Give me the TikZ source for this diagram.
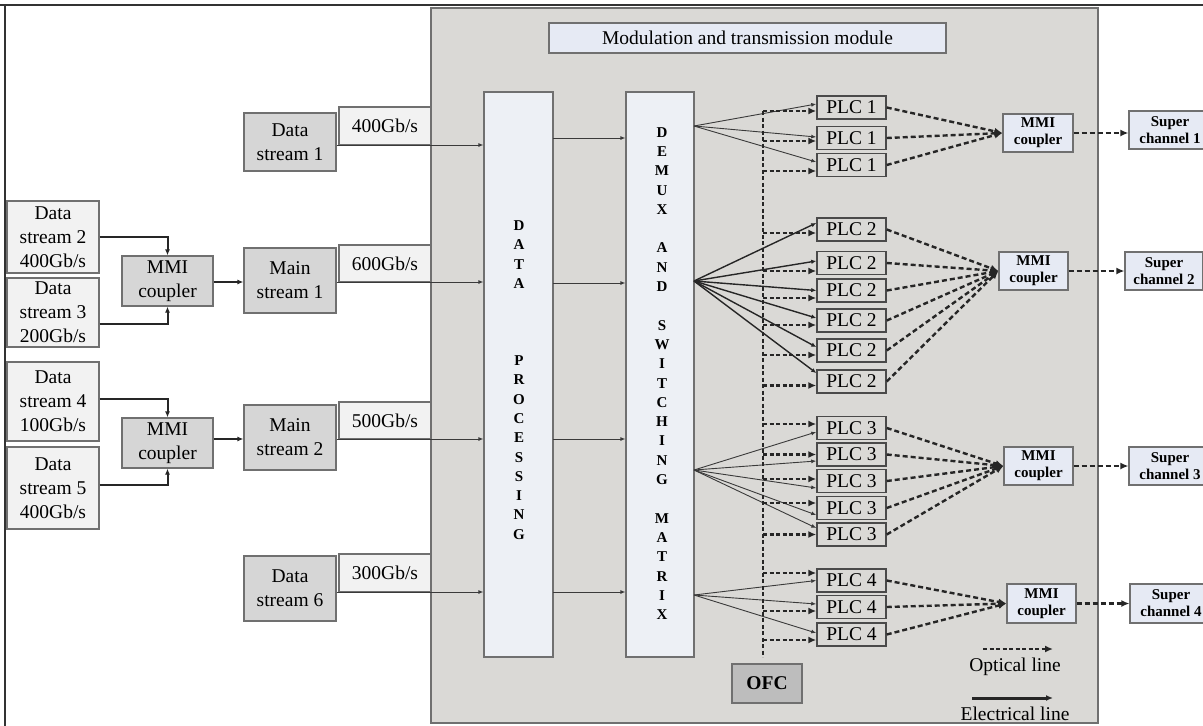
\documentclass[tikz,border=0pt]{standalone}
\usepackage{fontspec}
\setmainfont{Liberation Serif}
\usetikzlibrary{arrows.meta,calc}
\definecolor{lightfill}{HTML}{F2F2F2}
\definecolor{darkfill}{HTML}{D6D6D6}
\definecolor{modgray}{HTML}{DAD9D6}
\definecolor{bluefill}{HTML}{E6EAF4}
\definecolor{colfill}{HTML}{EDF0F5}
\definecolor{boxline}{HTML}{707070}
\definecolor{plcline}{HTML}{4A4A4A}
\definecolor{ofcfill}{HTML}{BDBDBD}
\definecolor{elline}{HTML}{3A3A3A}
\begin{document}
\begin{tikzpicture}[x=1pt,y=-1pt,
  box/.style={draw=boxline, line width=1.2pt, inner sep=0pt, align=center, font=\fontsize{19.5}{24}\selectfont},
  lightbox/.style={box, fill=lightfill},
  darkbox/.style={box, fill=darkfill},
  colbox/.style={box, fill=colfill},
  bluebox/.style={box, fill=bluefill, font=\bfseries\fontsize{15}{17}\selectfont},
  plcbox/.style={box, fill=modgray, draw=plcline, line width=1.5pt, minimum width=69pt, minimum height=23pt, font=\fontsize{19.5}{20}\selectfont},
  vtext/.style={align=center, inner sep=0pt, font=\bfseries\fontsize{15}{19.3}\selectfont},
  el/.style={draw=elline, line width=0.9pt, -{Latex[length=5pt,width=4pt]}},
  elb/.style={draw=black!85, line width=1.4pt, -{Latex[length=5pt,width=4.5pt]}},
  elthick/.style={draw=black!85, line width=2pt, -{Latex[length=6pt,width=5pt]}},
  opt/.style={draw=black!85, line width=2.4pt, dash pattern=on 5pt off 3pt, -{Latex[length=8pt,width=7pt]}},
  optb/.style={draw=black!85, line width=2.4pt, dash pattern=on 4pt off 2.5pt, -{Latex[length=8pt,width=7pt]}},
  bus/.style={draw=black!85, line width=2.4pt, dash pattern=on 4pt off 2.5pt},
  lgd/.style={inner sep=0pt, font=\fontsize{19.5}{24}\selectfont}
]
\useasboundingbox (0,0) rectangle (1203,726);
\fill[white] (0,0) rectangle (1203,726);

% outer frame
\draw[line width=2pt, black!80] (0,5) -- (1203,5);
\draw[line width=2pt, black!80] (5,5) -- (5,726);

% module
\node[box, fill=modgray, minimum width=667pt, minimum height=715pt] (mod) at (764.5,365.5) {};
\node[box, fill=bluefill, minimum width=397pt, minimum height=30pt] (title) at (747.5,38) {Modulation and transmission module};

% columns
\node[colbox, minimum width=69pt, minimum height=565pt] (dp) at (518.5,374.5) {};
\node[colbox, minimum width=68pt, minimum height=565pt] (dm) at (660,374.5) {};
\node[vtext] (dptxt) at (519,380) {D\\A\\T\\A\\~\\~\\~\\P\\R\\O\\C\\E\\S\\S\\I\\N\\G};
\node[vtext] (dmtxt) at (662,373.5) {D\\E\\M\\U\\X\\~\\A\\N\\D\\~\\S\\W\\I\\T\\C\\H\\I\\N\\G\\~\\M\\A\\T\\R\\I\\X};

% left boxes
\node[lightbox, minimum width=92pt, minimum height=72pt] (ds2) at (53,237) {Data\\stream 2\\400Gb/s};
\node[lightbox, minimum width=92pt, minimum height=69pt] (ds3) at (53,312.5) {Data\\stream 3\\200Gb/s};
\node[lightbox, minimum width=92pt, minimum height=79pt] (ds4) at (53,401.5) {Data\\stream 4\\100Gb/s};
\node[lightbox, minimum width=92pt, minimum height=82pt] (ds5) at (53,488) {Data\\stream 5\\400Gb/s};
\node[darkbox, minimum width=91pt, minimum height=50pt] (mmi1) at (167.5,281) {MMI\\coupler};
\node[darkbox, minimum width=91pt, minimum height=50pt] (mmi2) at (167.5,443) {MMI\\coupler};
\node[darkbox, minimum width=92pt, minimum height=58pt] (ds1) at (290,142) {Data\\stream 1};
\node[darkbox, minimum width=92pt, minimum height=65pt] (main1) at (290,280.5) {Main\\stream 1};
\node[darkbox, minimum width=92pt, minimum height=65pt] (main2) at (290,437.5) {Main\\stream 2};
\node[darkbox, minimum width=92pt, minimum height=65pt] (ds6) at (290,588.5) {Data\\stream 6};
\node[lightbox, minimum width=92pt, minimum height=38pt] (r1) at (385,126) {400Gb/s};
\node[lightbox, minimum width=92pt, minimum height=37pt] (r2) at (385,263.5) {600Gb/s};
\node[lightbox, minimum width=92pt, minimum height=37pt] (r3) at (385,420.5) {500Gb/s};
\node[lightbox, minimum width=92pt, minimum height=38pt] (r4) at (385,573) {300Gb/s};

% left connectors
\draw[elthick] ($(ds2.east)+(0,0)$) -| (mmi1.north);
\draw[elthick] ($(ds3.east)+(0,11.5)$) -| (mmi1.south);
\draw[elthick] ($(ds4.east)+(0,-2.5)$) -| (mmi2.north);
\draw[elthick] ($(ds5.east)+(0,-3)$) -| (mmi2.south);
\draw[elthick] ($(mmi1.east)+(0,1)$) -- ($(main1.west)+(0,1.5)$);
\draw[elthick] ($(mmi2.east)+(0,-4)$) -- ($(main2.west)+(0,1.5)$);

% into data processing
\coordinate (a1) at ($(ds1.east)+(0,3)$);
\coordinate (a2) at ($(main1.east)+(0,1.5)$);
\coordinate (a3) at ($(main2.east)+(0,1.5)$);
\coordinate (a4) at ($(ds6.east)+(0,3.5)$);
\foreach \c in {a1,a2,a3,a4} \draw[el] (\c) -- (dp.west |- \c);
% data processing to demux
\coordinate (b1) at (553,138);
\coordinate (b2) at (553,283);
\coordinate (b3) at (553,439);
\coordinate (b4) at (553,592);
\foreach \c in {b1,b2,b3,b4} \draw[el] (\c) -- (dm.west |- \c);

% PLC boxes
\foreach \n/\t/\y in {p1a/1/107.5, p1b/1/138, p1c/1/165,
  p2a/2/229.5, p2b/2/263, p2c/2/290.5, p2d/2/320.5, p2e/2/350.5, p2f/2/381.5,
  p3a/3/428, p3b/3/454.5, p3c/3/481, p3d/3/508, p3e/3/534.5,
  p4a/4/580.5, p4b/4/607, p4c/4/634.5}
  \node[plcbox] (\n) at (851.5,\y) {PLC \t};

% fans from demux
\coordinate (f1) at (694,126);
\coordinate (f2) at (694,281);
\coordinate (f3) at (694,470);
\coordinate (f4) at (694,595);
\foreach \n/\s in {p1a/-3.5, p1b/-1, p1c/-3} \draw[el] (f1) -- ($(\n.west)+(0,\s)$);
\foreach \n/\s in {p2a/-6.5, p2b/-2, p2c/0, p2d/-2.5, p2e/-3.5, p2f/-8.5} \draw[elb] (f2) -- ($(\n.west)+(0,\s)$);
\foreach \n/\s in {p3a/4, p3b/6.5, p3c/7, p3d/7, p3e/-6.5} \draw[el] (f3) -- ($(\n.west)+(0,\s)$);
\foreach \n/\s in {p4a/0, p4b/-3, p4c/-1.5} \draw[el] (f4) -- ($(\n.west)+(0,\s)$);

% OFC and optical bus
\node[box, fill=ofcfill, minimum width=70pt, minimum height=39pt, font=\bfseries\fontsize{19.5}{24}\selectfont] (ofc) at (767,683.5) {OFC};
\coordinate (busT) at (763,111);
\coordinate (busB) at (763,657);
\draw[bus] (busT) -- (busB);
\foreach \n/\d in {p1a/3.5, p1b/3, p1c/6, p2a/3.5, p2b/8, p2c/7.5, p2d/4.5, p2e/4.5, p2f/4,
  p3a/-4, p3b/0, p3c/-2, p3d/-5, p3e/0, p4a/-7.5, p4b/4, p4c/5.5}
  {\coordinate (o\n) at ($(\n.west)+(0,\d)$);
   \draw[optb] (busT |- o\n) -- (o\n);}

% right MMI couplers and super channels
\node[bluebox, minimum width=70pt, minimum height=38pt] (mA) at (1038,133) {MMI\\coupler};
\node[bluebox, minimum width=69pt, minimum height=38pt] (mB) at (1033.5,271) {MMI\\coupler};
\node[bluebox, minimum width=69pt, minimum height=38pt] (mC) at (1038.5,466) {MMI\\coupler};
\node[bluebox, minimum width=69pt, minimum height=39pt] (mD) at (1041.5,603.5) {MMI\\coupler};
\node[bluebox, minimum width=82pt, minimum height=38pt] (sA) at (1170,130) {Super\\channel 1};
\node[bluebox, minimum width=78pt, minimum height=38pt] (sB) at (1164,271) {Super\\channel 2};
\node[bluebox, minimum width=82pt, minimum height=38pt] (sC) at (1170,466) {Super\\channel 3};
\node[bluebox, minimum width=82pt, minimum height=39pt] (sD) at (1171,603.5) {Super\\channel 4};

\foreach \n in {p1a,p1b,p1c} \draw[opt] (\n.east) -- (mA.west);
\foreach \n in {p2a,p2b,p2c,p2d,p2e,p2f} \draw[opt] (\n.east) -- (mB.west);
\foreach \n in {p3a,p3b,p3c,p3d,p3e} \draw[opt] (\n.east) -- (mC.west);
\foreach \n in {p4a,p4b,p4c} \draw[opt] (\n.east) -- (mD.west);
\draw[opt] (mA.east) -- (sA.west |- mA.east);
\draw[opt] (mB.east) -- (sB.west);
\draw[opt] (mC.east) -- (sC.west);
\draw[opt] (mD.east) -- (sD.west);

% legend
\coordinate (l1a) at (983,649);
\coordinate (l1b) at (1053,649);
\coordinate (l2a) at (972,698);
\coordinate (l2b) at (1053,698);
\draw[opt, line width=2pt, dash pattern=on 4pt off 2.5pt] (l1a) -- (l1b);
\draw[draw=black!85, line width=3pt, -{Latex[length=7pt,width=6pt]}] (l2a) -- (l2b);
\node[lgd] (lgo) at (1015,667) {Optical line};
\node[lgd] (lge) at (1015,714) {Electrical line};
\end{tikzpicture}
\end{document}
